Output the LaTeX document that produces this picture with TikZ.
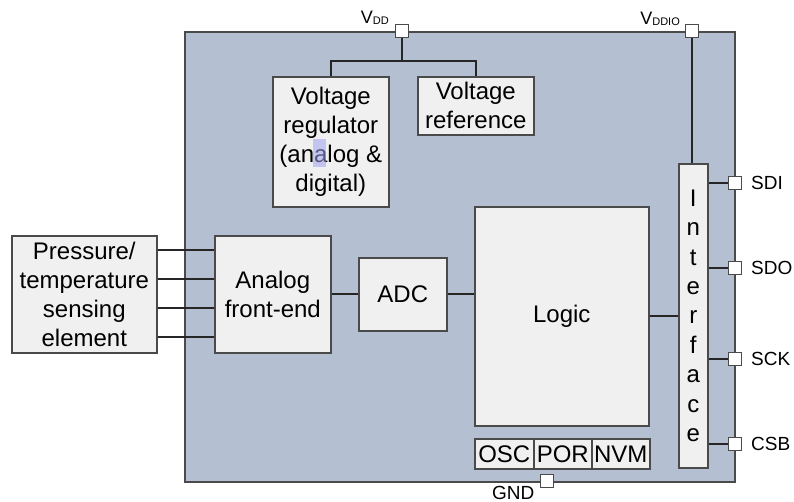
\documentclass[tikz,border=0pt]{standalone}
\usepackage{fontspec}
\setmainfont{Liberation Sans}
\definecolor{chipfill}{HTML}{B4BFD2}
\definecolor{blockfill}{HTML}{F0F0F0}
\definecolor{edgegray}{HTML}{4A4A4A}
\definecolor{marklav}{HTML}{A0A0F0}
\begin{document}
\begin{tikzpicture}[x=1pt,y=-1pt]
            \tikzstyle{every node}+=[inner sep=0pt]
            \tikzstyle{block}=[draw=edgegray, line width=1.6pt, fill=blockfill, align=center, font=\fontsize{24}{29}\selectfont]
            \tikzstyle{pin}=[draw=edgegray, line width=1.2pt, fill=white, minimum size=13pt]
            \tikzstyle{wire}=[draw=black!85, line width=1.8pt]
            \tikzstyle{pinlabel}=[font=\fontsize{19}{19}\selectfont]
            \useasboundingbox (0,0) rectangle (794,502);
            \draw [edgegray, line width=1.6pt, fill=chipfill] (185,32) rectangle (735,482);
            \node [block, anchor=north west, minimum width=116pt, minimum height=130pt] (reg) at (272,76) {Voltage\\regulator\\(analog \&\\digital)};
            \fill [marklav, fill opacity=0.55] (313,139) rectangle (326,167);
            \node [block, anchor=north west, minimum width=116pt, minimum height=58pt] (ref) at (417,76) {Voltage\\reference};
            \node [block, anchor=north west, minimum width=145pt, minimum height=117pt] (sensor) at (11,235) {Pressure/\\temperature\\sensing\\element};
            \node [block, anchor=north west, minimum width=116pt, minimum height=117pt] (afe) at (214,235) {Analog\\front-end};
            \node [block, anchor=north west, minimum width=88pt, minimum height=73pt] (adc) at (358,257) {ADC};
            \node [block, anchor=north west, minimum width=174pt, minimum height=219pt] (logic) at (474,206) {Logic};
            \node [block, anchor=north west, minimum width=59pt, minimum height=30pt] (osc) at (474,438) {OSC};
            \node [block, anchor=north west, minimum width=58pt, minimum height=30pt] (por) at (533,438) {POR};
            \node [block, anchor=north west, minimum width=58pt, minimum height=30pt] (nvm) at (591,438) {NVM};
            \node [block, anchor=north west, minimum width=29pt, minimum height=304pt, font=\fontsize{24}{29.4}\selectfont] (iface) at (678,163) {I\\n\\t\\e\\r\\f\\a\\c\\e};
            \node [pin] (vdd) at (402,31) {};
            \node [pin] (vddio) at (692,31) {};
            \node [pin] (sdi) at (735,183) {};
            \node [pin] (sdo) at (735,268) {};
            \node [pin] (sck) at (735,359) {};
            \node [pin] (csb) at (735,444) {};
            \node [pin] (gnd) at (547,481) {};
            \coordinate (vddsplit) at (402,61);
            \draw [wire] (reg.north) |- (vddsplit) -| (ref.north);
            \draw [wire] (vdd.south) -- (vddsplit);
            \draw [wire] (vddio.south) -- (vddio |- iface.north);
            \foreach \y in {250,279,308,337}
                \draw [wire] (sensor.east |- 0,\y) -- (afe.west |- 0,\y);
            \draw [wire] (afe.east) -- (adc.west);
            \draw [wire] (adc.east) -- (adc.east -| logic.west);
            \draw [wire] (logic.east) -- (logic.east -| iface.west);
            \foreach \p in {sdi,sdo,sck,csb}
                \draw [wire] (iface.east |- \p) -- (\p.west);
            \node [anchor=base east, font=\fontsize{18}{18}\selectfont] (vddlabel) at (389,24) {V\raisebox{-1pt}{\fontsize{11}{11}\selectfont DD}};
            \node [anchor=base east, font=\fontsize{18}{18}\selectfont] (vddiolabel) at (680,25) {V\raisebox{-1pt}{\fontsize{11}{11}\selectfont DDIO}};
            \node [pinlabel, anchor=west] (sdilabel) at (751,183) {SDI};
            \node [pinlabel, anchor=west] (sdolabel) at (751,268) {SDO};
            \node [pinlabel, anchor=west] (scklabel) at (751,359) {SCK};
            \node [pinlabel, anchor=west] (csblabel) at (751,444) {CSB};
            \node [pinlabel, anchor=base west] (gndlabel) at (492,499) {GND};
\end{tikzpicture}
\end{document}
